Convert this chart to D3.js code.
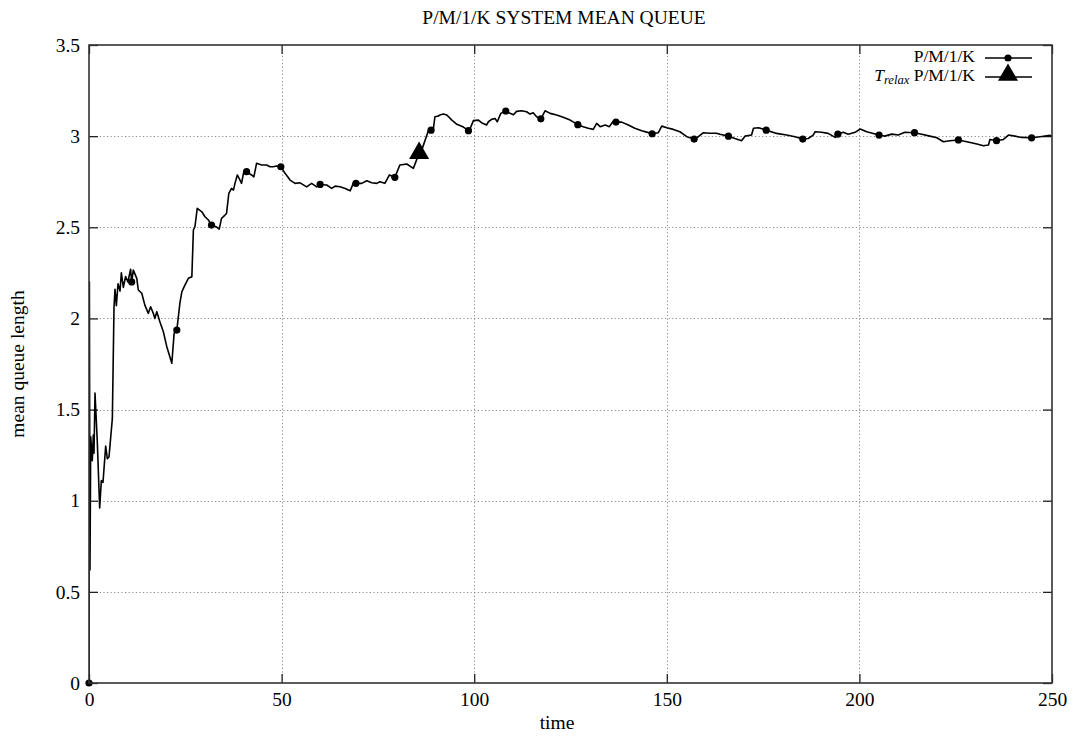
<!DOCTYPE html>
<html>
<head>
<meta charset="utf-8">
<script src="https://cdn.jsdelivr.net/npm/d3@7"></script>
<style>
  html, body { margin: 0; padding: 0; background: #fff; }
  svg text { font-family: "Liberation Serif", "Times New Roman", serif; fill: #000; }
</style>
</head>
<body>
<svg id="chart" width="1075" height="737"></svg>
<script>
// Simulated P/M/1/K system: running mean queue length over time
const times = [
  0, 0.1, 0.25, 0.45, 0.86, 1.12, 1.30, 1.56, 2.16, 2.77, 3.2, 3.63, 4.33, 4.76, 5.19,
  6.06, 6.49, 6.75, 7.10, 7.53, 8.05, 8.4, 8.92, 9.5, 10.1, 10.8, 11.08, 11.5, 12.4, 12.8,
  13.7, 14.5, 15.4, 16.0, 16.7, 17.1, 17.6, 18.4, 19.3, 20.2, 21.5, 22.1, 22.8, 23.6, 24.1,
  24.9, 25.8, 26.7, 27.1, 27.5, 28.1, 29.3, 30.1, 31.0, 31.8, 33.0, 33.8, 34.4, 35.3, 35.7,
  36.3, 37.0, 37.5, 37.9, 38.5, 39.2, 39.6, 40.1, 40.9, 42.2, 42.8, 43.5, 44.8, 46.1, 47.0,
  47.8, 48.7, 49.8, 50.9, 52.2, 53.5, 54.8, 56.5, 57.8, 59.1, 60.0, 61.7, 63.0, 63.9, 65.2,
  66.5, 67.8, 68.6, 69.3, 70.8, 72.1, 73.4, 74.7, 75.5, 76.8, 78.0, 79.4, 80.7, 82.5, 84.2,
  85.2, 86.0, 88.1, 88.8, 89.4, 89.8, 90.7, 91.1, 92.0, 92.9, 94.2, 95.5, 97.2, 98.5, 98.9,
  99.8, 101.1, 101.9, 103.2, 103.7, 104.5, 105.4, 106.0, 106.9, 108.2, 109.3, 110.2, 111.0, 112.3, 113.6,
  114.5, 115.3, 116.2, 117.3, 118.4, 119.7, 121.4, 123.1, 124.9, 126.9, 128.3, 129.6, 130.9, 131.8, 132.7,
  134.0, 135.1, 136.0, 136.8, 138.3, 140.0, 141.7, 143.5, 144.8, 146.2, 147.8, 148.7, 150.0, 151.7, 153.4,
  155.2, 157.1, 158.2, 159.5, 161.2, 162.9, 163.8, 166.0, 167.7, 169.4, 170.3, 172.0, 172.5, 173.8, 175.8,
  178.5, 181.1, 183.3, 185.3, 186.7, 188.0, 188.5, 190.2, 191.9, 193.7, 194.4, 195.8, 197.1, 198.9, 200.2,
  201.9, 203.6, 205.1, 206.6, 208.4, 210.1, 211.8, 214.3, 216.2, 218.3, 220.1, 221.8, 223.5, 225.7, 227.9,
  230.5, 232.2, 233.5, 233.9, 235.6, 237.4, 238.7, 240.4, 242.1, 244.7, 246.9, 249.5, 250
];
const meanQueue = [
  0, 2.2, 0.62, 1.35, 1.22, 1.36, 1.26, 1.59, 1.32, 0.96, 1.11, 1.10, 1.30, 1.23, 1.24,
  1.45, 2.06, 2.16, 2.07, 2.19, 2.15, 2.25, 2.17, 2.23, 2.20, 2.27, 2.20, 2.265, 2.22, 2.156,
  2.138, 2.073, 2.028, 2.064, 2.028, 2.00, 2.037, 1.982, 1.927, 1.845, 1.754, 1.918, 1.936, 2.084, 2.146,
  2.183, 2.22, 2.229, 2.485, 2.503, 2.604, 2.585, 2.558, 2.54, 2.512, 2.503, 2.49, 2.549, 2.567, 2.576,
  2.686, 2.713, 2.704, 2.741, 2.787, 2.759, 2.741, 2.796, 2.805, 2.787, 2.777, 2.851, 2.842, 2.842, 2.832,
  2.832, 2.836, 2.832, 2.796, 2.759, 2.741, 2.744, 2.722, 2.741, 2.722, 2.735, 2.732, 2.713, 2.726, 2.722,
  2.713, 2.70, 2.741, 2.741, 2.741, 2.755, 2.744, 2.741, 2.75, 2.741, 2.787, 2.774, 2.842, 2.847, 2.823,
  2.878, 2.90, 3.03, 3.033, 3.04, 3.106, 3.11, 3.116, 3.121, 3.116, 3.088, 3.065, 3.05, 3.03, 3.04,
  3.085, 3.088, 3.074, 3.061, 3.079, 3.092, 3.097, 3.079, 3.125, 3.138, 3.125, 3.117, 3.136, 3.139, 3.134,
  3.121, 3.128, 3.106, 3.095, 3.139, 3.125, 3.116, 3.103, 3.088, 3.063, 3.052, 3.043, 3.037, 3.07, 3.052,
  3.061, 3.052, 3.079, 3.077, 3.077, 3.061, 3.043, 3.03, 3.022, 3.013, 3.019, 3.055, 3.046, 3.037, 3.024,
  2.997, 2.984, 2.997, 3.019, 3.016, 3.016, 3.01, 3.00, 2.987, 2.975, 3.00, 3.006, 3.043, 3.046, 3.033,
  3.015, 3.006, 2.997, 2.984, 2.987, 3.006, 3.024, 3.021, 3.015, 2.993, 3.011, 3.021, 3.010, 3.021, 3.039,
  3.024, 3.015, 3.006, 3.00, 3.011, 3.006, 3.021, 3.019, 3.01, 3.00, 2.991, 2.969, 2.975, 2.979, 2.969,
  2.957, 2.947, 2.951, 2.982, 2.975, 2.982, 3.006, 3.00, 2.993, 2.991, 2.997, 3.004, 3.0
];
// Sample instants that carry a point symbol on the curve
const markerTimes = [
  0, 11.08, 22.8, 31.8, 40.9, 49.8, 60.0, 69.3, 79.4, 88.8, 98.5, 108.2, 117.3,
  126.9, 136.8, 146.2, 157.1, 166.0, 175.8, 185.3, 194.4, 205.1, 214.3, 225.7, 235.6, 244.7
];
// Relaxation time estimate
const relaxTime = [85.7];
const relaxValue = [2.907];

const xTicks = [0, 50, 100, 150, 200, 250];
const yTicks = [0, 0.5, 1, 1.5, 2, 2.5, 3, 3.5];

const titleText = "P/M/1/K SYSTEM MEAN QUEUE";
const xLabel = "time";
const yLabel = "mean queue length";
const seriesName = "P/M/1/K";

const svg = d3.select("#chart");
const m = { left: 89, right: 1052, top: 45, bottom: 683 };
const fs = 19.5;

const x = d3.scaleLinear().domain([0, 250]).range([m.left, m.right]);
const y = d3.scaleLinear().domain([0, 3.5]).range([m.bottom, m.top]);

svg.append("rect").attr("width", 1075).attr("height", 737).attr("fill", "#fff");

// Grid
const grid = svg.append("g")
  .attr("stroke", "#8a8a8a").attr("stroke-width", 1).attr("stroke-dasharray", "1.2,2.4");
grid.selectAll("line.gx").data(xTicks.slice(1, -1)).join("line")
  .attr("x1", d => Math.round(x(d)) + 0.5).attr("x2", d => Math.round(x(d)) + 0.5)
  .attr("y1", m.top).attr("y2", m.bottom);
grid.selectAll("line.gy").data(yTicks.slice(1, -1)).join("line")
  .attr("y1", d => Math.round(y(d)) + 0.5).attr("y2", d => Math.round(y(d)) + 0.5)
  .attr("x1", m.left).attr("x2", m.right);

// Axes (labels + inward ticks), mirrored on top and right
const tickLen = 9;
const xAxisB = d3.axisBottom(x).tickValues(xTicks).tickFormat(d3.format("d")).tickSizeInner(-tickLen).tickSizeOuter(0).tickPadding(9);
const yAxisL = d3.axisLeft(y).tickValues(yTicks).tickFormat(d => String(d)).tickSizeInner(-tickLen).tickSizeOuter(0).tickPadding(9);
const xAxisT = d3.axisTop(x).tickValues(xTicks).tickFormat("").tickSizeInner(-tickLen).tickSizeOuter(0);
const yAxisR = d3.axisRight(y).tickValues(yTicks).tickFormat("").tickSizeInner(-tickLen).tickSizeOuter(0);

function styleAxis(g) {
  g.select(".domain").remove();
  g.selectAll(".tick line").attr("stroke", "#222").attr("stroke-width", 1.3);
  g.selectAll(".tick text").attr("font-size", fs).attr("font-family", "Liberation Serif").attr("fill", "#000");
}

svg.append("g").attr("transform", `translate(0,${m.bottom})`).call(xAxisB).call(styleAxis);
svg.append("g").attr("transform", `translate(${m.left},0)`).call(yAxisL).call(styleAxis);
svg.append("g").attr("transform", `translate(0,${m.top})`).call(xAxisT).call(styleAxis);
svg.append("g").attr("transform", `translate(${m.right},0)`).call(yAxisR).call(styleAxis);

// Data series
const data = times.map((t, i) => ({ t, v: meanQueue[i] }));
svg.append("clipPath").attr("id", "plotclip").append("rect")
  .attr("x", m.left).attr("y", m.top).attr("width", m.right - m.left).attr("height", m.bottom - m.top);

const line = d3.line().x(d => x(d.t)).y(d => y(d.v));
svg.append("path").datum(data)
  .attr("clip-path", "url(#plotclip)")
  .attr("fill", "none").attr("stroke", "#000").attr("stroke-width", 1.6)
  .attr("stroke-linejoin", "round")
  .attr("d", line);

const markers = data.filter(d => markerTimes.includes(d.t));
svg.append("g").selectAll("circle").data(markers).join("circle")
  .attr("cx", d => x(d.t)).attr("cy", d => y(d.v)).attr("r", 3.6).attr("fill", "#000");

const tri = d3.symbol().type(d3.symbolTriangle).size(175);
svg.append("g").selectAll("path").data(relaxTime.map((t, i) => ({ t, v: relaxValue[i] }))).join("path")
  .attr("transform", d => `translate(${x(d.t)},${y(d.v)})`)
  .attr("d", tri).attr("fill", "#000");

// Frame on top
svg.append("rect")
  .attr("x", m.left).attr("y", m.top).attr("width", m.right - m.left).attr("height", m.bottom - m.top)
  .attr("fill", "none").attr("stroke", "#333").attr("stroke-width", 1.6);

// Title and axis labels
svg.append("text").attr("x", 564).attr("y", 24).attr("text-anchor", "middle")
  .attr("font-size", fs).text(titleText);
svg.append("text").attr("x", 557).attr("y", 729).attr("text-anchor", "middle")
  .attr("font-size", fs).text(xLabel);
svg.append("text").attr("transform", "translate(24,364) rotate(-90)").attr("text-anchor", "middle")
  .attr("font-size", fs).text(yLabel);

// Legend
const lg = svg.append("g");
const lfs = 17.5;
const lx1 = 985, lx2 = 1032, lmid = 1008;
const row1 = 58, row2 = 77;
lg.append("text").attr("x", 975).attr("y", row1 + 4).attr("text-anchor", "end").attr("font-size", lfs).text(seriesName);
lg.append("line").attr("x1", lx1).attr("x2", lx2).attr("y1", row1).attr("y2", row1).attr("stroke", "#000").attr("stroke-width", 1.6);
lg.append("circle").attr("cx", lmid).attr("cy", row1).attr("r", 3.6).attr("fill", "#000");

const t2 = lg.append("text").attr("x", 975).attr("y", row2 + 4).attr("text-anchor", "end").attr("font-size", lfs);
t2.append("tspan").attr("font-style", "italic").text("T");
t2.append("tspan").attr("font-style", "italic").attr("font-size", lfs * 0.72).attr("dy", 3).text("relax");
t2.append("tspan").attr("dy", -3).text(" " + seriesName);
lg.append("line").attr("x1", lx1).attr("x2", lx2).attr("y1", row2).attr("y2", row2).attr("stroke", "#000").attr("stroke-width", 1.6);
lg.append("path").attr("transform", `translate(${lmid},${row2 - 2})`).attr("d", tri).attr("fill", "#000");
</script>
</body>
</html>
